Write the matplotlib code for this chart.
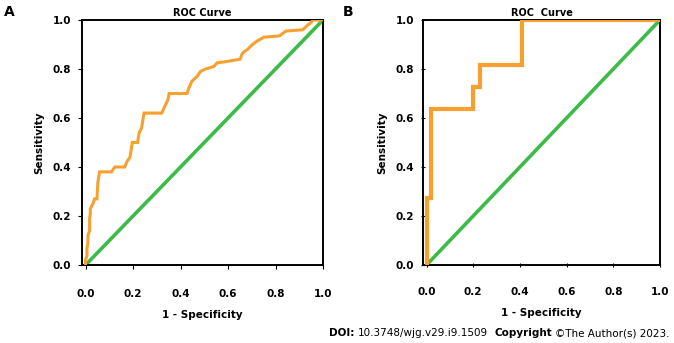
import matplotlib
matplotlib.use("Agg")
import matplotlib.pyplot as plt

# Panel A ROC curve
fpr_a = [0.0, 0.0, 0.006, 0.006, 0.010, 0.010, 0.017, 0.017, 0.020, 0.020, 0.031, 0.038, 0.048, 0.052,
         0.059, 0.109, 0.123, 0.165, 0.173, 0.187, 0.197, 0.219, 0.226, 0.236, 0.246, 0.321, 0.335,
         0.347, 0.352, 0.427, 0.434, 0.448, 0.470, 0.484, 0.505, 0.540, 0.554, 0.590, 0.651, 0.661,
         0.682, 0.703, 0.724, 0.752, 0.816, 0.844, 0.915, 0.936, 0.950, 0.958, 1.0]
tpr_a = [0.0, 0.02, 0.04, 0.07, 0.09, 0.12, 0.14, 0.19, 0.21, 0.23, 0.25, 0.27, 0.27, 0.34,
         0.38, 0.38, 0.40, 0.40, 0.42, 0.44, 0.50, 0.50, 0.54, 0.56, 0.62, 0.62, 0.65,
         0.675, 0.70, 0.70, 0.72, 0.75, 0.77, 0.79, 0.80, 0.81, 0.825, 0.83, 0.84, 0.865,
         0.88, 0.90, 0.915, 0.93, 0.935, 0.955, 0.96, 0.98, 0.99, 1.0, 1.0]

# Panel B ROC curve
fpr_b = [0.0, 0.0, 0.02, 0.02, 0.20, 0.20, 0.23, 0.23, 0.41, 0.41, 1.0]
tpr_b = [0.0, 3/11, 3/11, 7/11, 7/11, 8/11, 8/11, 9/11, 9/11, 1.0, 1.0]

ref_line = [0.0, 1.0]
ticks = [0.0, 0.2, 0.4, 0.6, 0.8, 1.0]
tick_labels = ["0.0", "0.2", "0.4", "0.6", "0.8", "1.0"]

ORANGE = "#F7A030"
GREEN = "#3DBB48"

fig = plt.figure(figsize=(6.74, 3.43), dpi=100)
W, H = 674, 343

def make_ax(left, right, top, bottom):
    return fig.add_axes([left / W, 1 - bottom / H, (right - left) / W, (bottom - top) / H])

axA = make_ax(82, 323, 20, 265)
axB = make_ax(423, 660, 20, 265)

for ax, fx, ty, lw, title, tdir in [(axA, fpr_a, tpr_a, 2.2, "ROC Curve", "out"),
                                     (axB, fpr_b, tpr_b, 3.0, "ROC  Curve", "inout")]:
    ax.plot(ref_line, ref_line, color=GREEN, lw=2.6, solid_capstyle="butt", zorder=2)
    ax.plot(fx, ty, color=ORANGE, lw=lw, solid_joinstyle="miter", zorder=3)
    ax.set_xlim(-0.015, 1.0)
    ax.set_ylim(0.0, 1.0)
    ax.set_xticks(ticks)
    ax.set_xticklabels(tick_labels, fontsize=7.5, fontweight="bold")
    ax.set_yticks(ticks)
    ax.set_yticklabels(tick_labels, fontsize=7.5, fontweight="bold")
    ax.tick_params(axis="x", length=3, width=0.8, pad=14, direction=tdir)
    ax.tick_params(axis="y", length=3, width=0.8, pad=5, direction=tdir)
    for s in ax.spines.values():
        s.set_linewidth(1.4)
        s.set_color("black")
    ax.set_title(title, fontsize=7, fontweight="bold", pad=3)
    ax.set_xlabel("1 - Specificity", fontsize=7.5, fontweight="bold", labelpad=8)
    ax.set_ylabel("Sensitivity", fontsize=7.5, fontweight="bold", labelpad=6)

fig.text(4 / W, 1 - 12 / H, "A", fontsize=10, fontweight="bold", va="center", ha="left")
fig.text(343 / W, 1 - 12 / H, "B", fontsize=10, fontweight="bold", va="center", ha="left")

y_doi = 1 - 333 / H
t1 = fig.text(329 / W, y_doi, "DOI:", fontsize=7.5, fontweight="bold", va="center", ha="left")
fig.canvas.draw()
r = fig.canvas.get_renderer()
bb = t1.get_window_extent(r)
t2 = fig.text((bb.x1 + 3) / W, y_doi, "10.3748/wjg.v29.i9.1509", fontsize=7.5, va="center", ha="left")
bb = t2.get_window_extent(r)
t3 = fig.text((bb.x1 + 7) / W, y_doi, "Copyright", fontsize=7.5, fontweight="bold", va="center", ha="left")
bb = t3.get_window_extent(r)
fig.text((bb.x1 + 3) / W, y_doi, "\u00a9The Author(s) 2023.", fontsize=7.5, va="center", ha="left")

fig.savefig("out.png", dpi=100)
